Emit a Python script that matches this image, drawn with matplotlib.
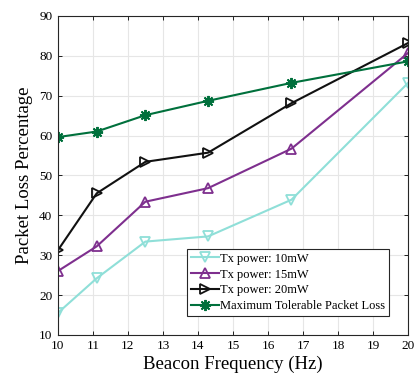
import matplotlib
matplotlib.use('Agg')
import matplotlib.pyplot as plt
import numpy as np

# Data
freq = [10, 11.11, 12.5, 14.29, 16.67, 20]
loss_10mw = [15.5, 24.2, 33.4, 34.7, 43.9, 73.2]
loss_15mw = [26.0, 32.2, 43.4, 46.8, 56.7, 80.7]
loss_20mw = [31.2, 45.5, 53.4, 55.7, 68.1, 83.2]
max_tolerable = [59.6, 61.0, 65.1, 68.7, 73.2, 78.6]

labels = ['Tx power: 10mW', 'Tx power: 15mW', 'Tx power: 20mW',
          'Maximum Tolerable Packet Loss']

plt.rcParams['font.family'] = ['Liberation Serif', 'DejaVu Serif']

fig = plt.figure(figsize=(4.19, 3.78), dpi=100)
ax = fig.add_axes([0.138, 0.114, 0.836, 0.844])

ax.plot(freq, loss_10mw, color='#8fdfd8', marker='v', ms=7.5, mfc='none',
        mew=1.3, lw=1.5, label=labels[0])
ax.plot(freq, loss_15mw, color='#7e2f8e', marker='^', ms=7.5, mfc='none',
        mew=1.3, lw=1.5, label=labels[1])
ax.plot(freq, loss_20mw, color='#111111', marker='>', ms=7.5, mfc='none',
        mew=1.3, lw=1.5, label=labels[2])
ax.plot(freq, max_tolerable, color='#00703c', marker=(8, 2, 0), ms=8,
        mew=1.4, lw=1.5, label=labels[3])

ax.set_xlim(10, 20)
ax.set_ylim(10, 90)
ax.set_xticks(np.arange(10, 21, 1))
ax.set_yticks(np.arange(10, 91, 10))
ax.grid(True, color='#e6e6e6', lw=0.8)
ax.set_axisbelow(True)
ax.tick_params(direction='in', top=True, right=True, labelsize=9.5,
               length=3, width=0.6, pad=4)
for s in ax.spines.values():
    s.set_linewidth(0.8)
    s.set_color('#262626')

ax.set_xlabel('Beacon Frequency (Hz)', fontsize=13.5, labelpad=2)
ax.set_ylabel('Packet Loss Percentage', fontsize=13.5, labelpad=4)

leg = ax.legend(loc='lower right', bbox_to_anchor=(0.945, 0.06), fontsize=9,
                handlelength=2.2, handletextpad=0.1, borderpad=0.3,
                labelspacing=0.3, fancybox=False, framealpha=1,
                edgecolor='#262626', borderaxespad=0)
leg.get_frame().set_linewidth(0.8)

fig.savefig('out.png', dpi=100)
